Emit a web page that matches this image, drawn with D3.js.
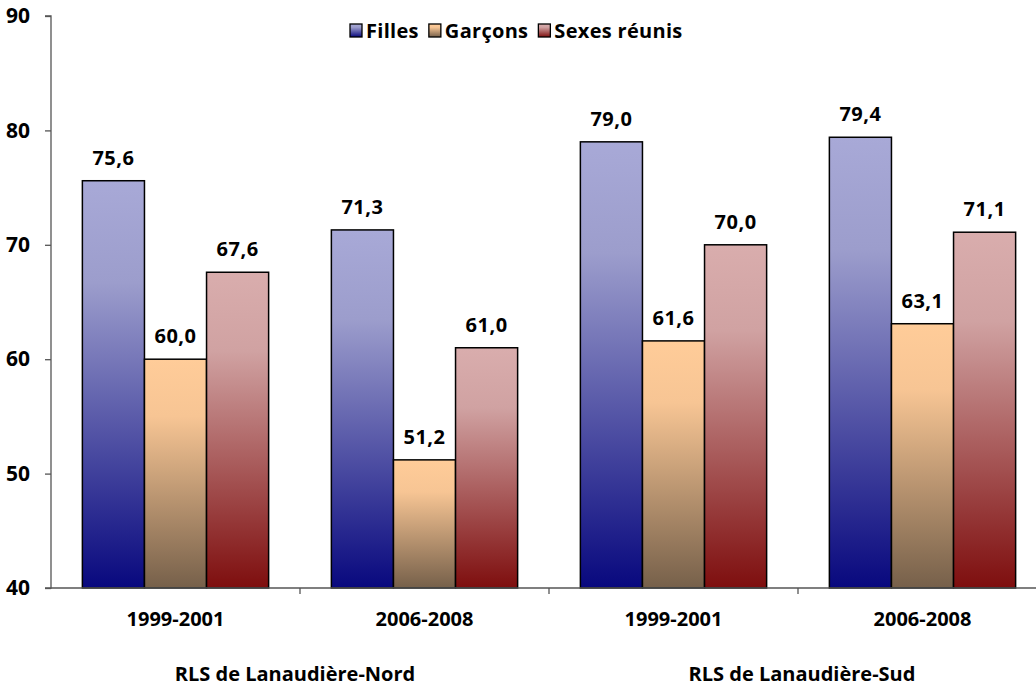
<!DOCTYPE html>
<html><head><meta charset="utf-8">
<script src="https://cdn.jsdelivr.net/npm/d3@7"></script>
<style>
html,body{margin:0;padding:0;background:#fff;}
svg{display:block;font-family:"Open Sans","Lato",sans-serif;}
</style></head>
<body><svg id="c" width="1036" height="686"></svg>
<script>
const periods = ["1999-2001","2006-2008","1999-2001","2006-2008"];
const regions = ["RLS de Lanaudière-Nord","RLS de Lanaudière-Sud"];
const seriesNames = ["Filles","Garçons","Sexes réunis"];
const filles = [75.6,71.3,79.0,79.4];
const garcons = [60.0,51.2,61.6,63.1];
const sexes = [67.6,61.0,70.0,71.1];
const yTicks = [40,50,60,70,80,90];

const seriesValues = [filles, garcons, sexes];
const gradColors = [
  ["#a8a9d7","#9c9dcc","#08087e"],
  ["#ffcc99","#f7c594","#76604a"],
  ["#d9adad","#d0a2a2","#7e0e0e"]
];

const svg = d3.select("#c");
const mLeft = 51, mRight = 1047, mTop = 16, mBottom = 588;

const y = d3.scaleLinear().domain([40,90]).range([mBottom, mTop]);
const x0 = d3.scaleBand().domain(d3.range(periods.length)).range([mLeft, mRight]).paddingInner(0).paddingOuter(0);
const bw = x0.bandwidth();
const x1 = d3.scaleBand().domain(d3.range(seriesNames.length)).range([bw*0.126, bw*0.874]).padding(0);

const defs = svg.append("defs");
gradColors.forEach((c,i)=>{
  const g = defs.append("linearGradient").attr("id","g"+i).attr("x1",0).attr("y1",0).attr("x2",0).attr("y2",1);
  g.append("stop").attr("offset","0%").attr("stop-color",c[0]);
  g.append("stop").attr("offset","25%").attr("stop-color",c[1]);
  g.append("stop").attr("offset","100%").attr("stop-color",c[2]);
});

const fmt = v => d3.format(".1f")(v).replace(".",",");

// bars
const groups = svg.append("g").selectAll("g").data(periods).join("g")
  .attr("transform",(d,i)=>`translate(${x0(i)},0)`);
groups.each(function(p,gi){
  const g = d3.select(this);
  seriesValues.forEach((vals,si)=>{
    const v = vals[gi];
    g.append("rect")
      .attr("x", x1(si)).attr("width", x1.bandwidth())
      .attr("y", y(v)).attr("height", y(40)-y(v))
      .attr("fill", `url(#g${si})`).attr("stroke","#000").attr("stroke-width",1.5);
    g.append("text")
      .attr("x", x1(si)+x1.bandwidth()/2).attr("y", y(v)-16)
      .attr("text-anchor","middle").attr("font-size",20).attr("font-weight","bold")
      .attr("letter-spacing",0.5).attr("fill","#000").text(fmt(v));
  });
});

// y axis
const yAxis = d3.axisLeft(y).tickValues(yTicks).tickSize(6).tickPadding(15).tickFormat(d3.format("d"));
const ya = svg.append("g").attr("transform",`translate(${mLeft},0)`).call(yAxis);
ya.select(".domain").attr("stroke","#555").attr("stroke-width",1.3).attr("d",`M-6,${mTop}H0V${mBottom}H-6`);
ya.selectAll(".tick line").attr("stroke","#555").attr("stroke-width",1.3);
ya.selectAll(".tick text").attr("font-size",21).attr("font-weight","bold").attr("fill","#000").attr("font-family","Open Sans, sans-serif");

// x axis
const xa = svg.append("g").attr("transform",`translate(0,${mBottom})`);
xa.append("line").attr("x1",mLeft).attr("x2",mRight).attr("y1",0).attr("y2",0).attr("stroke","#555").attr("stroke-width",1.3);
d3.range(1,periods.length).forEach(i=>{
  xa.append("line").attr("x1",x0(i)).attr("x2",x0(i)).attr("y1",0).attr("y2",6).attr("stroke","#555").attr("stroke-width",1.3);
});
xa.selectAll("text.per").data(periods).join("text").attr("class","per")
  .attr("x",(d,i)=>x0(i)+bw/2).attr("y",38)
  .attr("text-anchor","middle").attr("font-size",20).attr("font-weight","bold").attr("fill","#000").text(d=>d);
xa.selectAll("text.reg").data(regions).join("text").attr("class","reg")
  .attr("x",(d,i)=>(x0(i*2)+x0(i*2+1)+bw)/2 + (i===0 ? -5 : 4)).attr("y",93)
  .attr("text-anchor","middle").attr("font-size",20).attr("font-weight","bold").attr("fill","#000").text(d=>d);

// legend
const leg = svg.append("g").attr("transform","translate(350,24)");
let lx = 0;
seriesNames.forEach((n,i)=>{
  const lg = leg.append("g").attr("transform",`translate(${lx},0)`);
  lg.append("rect").attr("x",0).attr("y",0).attr("width",12).attr("height",13)
    .attr("fill",`url(#g${i})`).attr("stroke","#000").attr("stroke-width",1.3);
  const t = lg.append("text").attr("x",16).attr("y",14).attr("font-size",20).attr("font-weight","bold")
    .attr("letter-spacing",0.3).attr("fill","#000").text(n);
  lx += 16 + t.node().getComputedTextLength() + 10;
});
</script>
</body></html>
